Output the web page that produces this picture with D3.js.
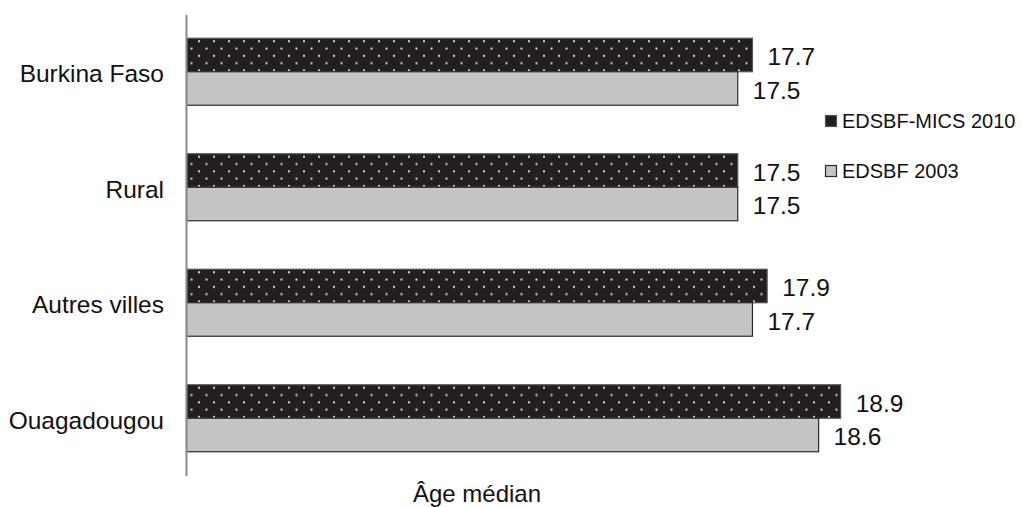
<!DOCTYPE html>
<html>
<head>
<meta charset="utf-8">
<script src="https://cdn.jsdelivr.net/npm/d3@7/dist/d3.min.js"></script>
<style>
  html, body { margin: 0; padding: 0; background: #fff; }
  svg { display: block; font-family: "Liberation Sans", Arial, sans-serif; }
</style>
</head>
<body>
<div id="chart"></div>
<script>
const categories = ["Burkina Faso", "Rural", "Autres villes", "Ouagadougou"];
const seriesNames = ["EDSBF-MICS 2010", "EDSBF 2003"];
const mics2010 = [17.7, 17.5, 17.9, 18.9];
const edsbf2003 = [17.5, 17.5, 17.7, 18.6];
const axisTitle = "Âge médian";

const W = 1022, H = 507;
const svg = d3.select("#chart").append("svg").attr("width", W).attr("height", H);

const defs = svg.append("defs");
const pat = defs.append("pattern")
  .attr("id", "dots").attr("patternUnits", "userSpaceOnUse")
  .attr("width", 15).attr("height", 14.6);
pat.append("rect").attr("width", 15).attr("height", 14.6).attr("fill", "#231f20");
pat.append("rect").attr("x", 3).attr("y", 2).attr("width", 2).attr("height", 2).attr("fill", "#d4d4d4");
pat.append("rect").attr("x", 10.5).attr("y", 9.3).attr("width", 2).attr("height", 2).attr("fill", "#d4d4d4");

const x = d3.scaleLinear().domain([10, 20]).range([186.5, 921.5]);
const y = d3.scaleBand().domain(categories).range([14, 476]).paddingInner(0.42).paddingOuter(0.21);
const ySub = d3.scaleBand().domain(seriesNames).range([0, y.bandwidth()]);

const rows = categories.map((c, i) => ({
  cat: c,
  vals: [
    { s: seriesNames[0], v: mics2010[i] },
    { s: seriesNames[1], v: edsbf2003[i] }
  ]
}));

const fills = { "EDSBF-MICS 2010": "url(#dots)", "EDSBF 2003": "#c4c4c6" };
const strokes = { "EDSBF-MICS 2010": "#555", "EDSBF 2003": "#2b2b2b" };

const g = svg.append("g");
const grp = g.selectAll("g.grp").data(rows).join("g")
  .attr("class", "grp")
  .attr("transform", d => `translate(0,${y(d.cat)})`);

grp.selectAll("rect").data(d => d.vals).join("rect")
  .attr("x", x(10))
  .attr("y", d => ySub(d.s))
  .attr("width", d => x(d.v) - x(10))
  .attr("height", ySub.bandwidth())
  .attr("fill", d => fills[d.s])
  .attr("stroke", d => strokes[d.s])
  .attr("stroke-width", 1.2);

grp.selectAll("text.val").data(d => d.vals).join("text")
  .attr("class", "val")
  .attr("x", d => x(d.v) + 15)
  .attr("y", d => ySub(d.s) + ySub.bandwidth() / 2)
  .attr("dy", "0.42em")
  .attr("font-size", "24.5px")
  .attr("fill", "#111")
  .text(d => d.v.toFixed(1));

// category labels
g.selectAll("text.cat").data(categories).join("text")
  .attr("class", "cat")
  .attr("x", 164)
  .attr("y", d => y(d) + y.bandwidth() / 2)
  .attr("dy", "0.42em")
  .attr("text-anchor", "end")
  .attr("font-size", "24.5px")
  .attr("fill", "#111")
  .text(d => d);

// vertical axis line
svg.append("line")
  .attr("x1", x(10)).attr("x2", x(10))
  .attr("y1", 15).attr("y2", 476)
  .attr("stroke", "#8a8a8a").attr("stroke-width", 2);

// axis title
svg.append("text")
  .attr("x", 477).attr("y", 502)
  .attr("text-anchor", "middle")
  .attr("font-size", "24px")
  .attr("fill", "#111")
  .text(axisTitle);

// legend
const legendY = [128, 178];
const leg = svg.append("g").selectAll("g").data(seriesNames).join("g")
  .attr("transform", (d, i) => `translate(825,${legendY[i]})`);
leg.append("rect")
  .attr("x", 0.5).attr("y", -12.5).attr("width", 11).attr("height", 11)
  .attr("fill", (d, i) => i === 0 ? "#231f20" : "#c4c4c6")
  .attr("stroke", (d, i) => i === 0 ? "#555" : "#2b2b2b")
  .attr("stroke-width", 1.2);
leg.append("text")
  .attr("x", 17).attr("y", 0)
  .attr("font-size", "20px")
  .attr("fill", "#111")
  .text(d => d);
</script>
</body>
</html>
